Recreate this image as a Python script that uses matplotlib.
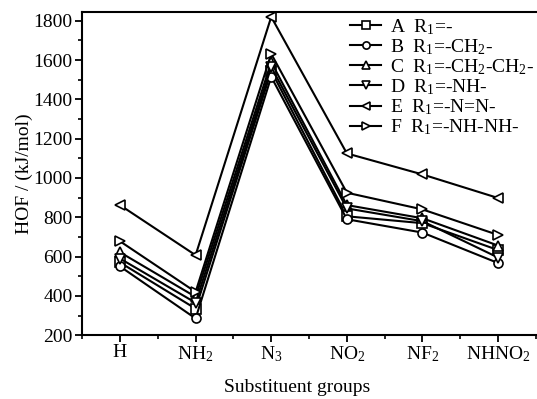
import matplotlib
matplotlib.use("Agg")
import matplotlib.pyplot as plt
from matplotlib.ticker import MultipleLocator, FixedLocator

plt.rcParams['font.family'] = ['Liberation Serif', 'DejaVu Serif']
plt.rcParams['mathtext.fontset'] = 'custom'
plt.rcParams['mathtext.rm'] = 'Liberation Serif'
plt.rcParams['mathtext.it'] = 'Liberation Serif:italic'
plt.rcParams['mathtext.bf'] = 'Liberation Serif:bold'

groups = ['H', 'NH$_2$', 'N$_3$', 'NO$_2$', 'NF$_2$', 'NHNO$_2$']
labels = ['A  R$_1$=-', 'B  R$_1$=-CH$_2$-', 'C  R$_1$=-CH$_2$-CH$_2$-',
          'D  R$_1$=-NH-', 'E  R$_1$=-N=N-', 'F  R$_1$=-NH-NH-']
markers = ['s', 'o', '^', 'v', '<', '>']

A = [570, 335, 1545, 805, 770, 633]
B = [550, 285, 1515, 790, 722, 567]
C = [622, 395, 1590, 862, 795, 656]
D = [590, 365, 1565, 845, 780, 595]
E = [862, 607, 1820, 1125, 1018, 898]
F = [678, 420, 1632, 925, 840, 710]
series = [A, B, C, D, E, F]

fig = plt.figure(figsize=(5.37, 3.99), dpi=100)
ax = fig.add_axes([0.153, 0.160, 0.845, 0.810])
x = list(range(len(groups)))
for vals, lab, m in zip(series, labels, markers):
    ax.plot(x, vals, color='black', lw=1.5, marker=m, markersize=6.5,
            markerfacecolor='white', markeredgecolor='black', markeredgewidth=1.2,
            label=lab)

ax.set_xlim(-0.5, 5.5)
ax.set_ylim(200, 1845)
ax.set_xticks(x)
ax.set_xticklabels(groups)
ax.xaxis.set_minor_locator(FixedLocator([i + 0.5 for i in range(-1, 6)]))
ax.yaxis.set_major_locator(MultipleLocator(200))
ax.yaxis.set_minor_locator(MultipleLocator(100))
ax.tick_params(which='major', direction='out', length=5, width=1.3, labelsize=14)
ax.tick_params(axis='x', which='major', pad=1.5)
ax.tick_params(axis='y', which='major', pad=2)
ax.tick_params(which='minor', direction='out', length=3, width=1.2)
ax.tick_params(top=False, right=False, which='both')
for s in ax.spines.values():
    s.set_linewidth(1.5)
ax.spines['right'].set_visible(False)

ax.set_ylabel('HOF / (kJ/mol)', fontsize=14, labelpad=0)
ax.set_xlabel('Substituent groups', fontsize=14)
ax.xaxis.set_label_coords(0.474, -0.135)

leg = ax.legend(loc='upper left', bbox_to_anchor=(350 / 537, 1 - 17 / 399),
                bbox_transform=fig.transFigure, frameon=False,
                fontsize=14, handlelength=1.6, handletextpad=0.45,
                labelspacing=0.02, borderaxespad=0, borderpad=0,
                markerscale=0.8)

fig.savefig('out.png', dpi=100)
